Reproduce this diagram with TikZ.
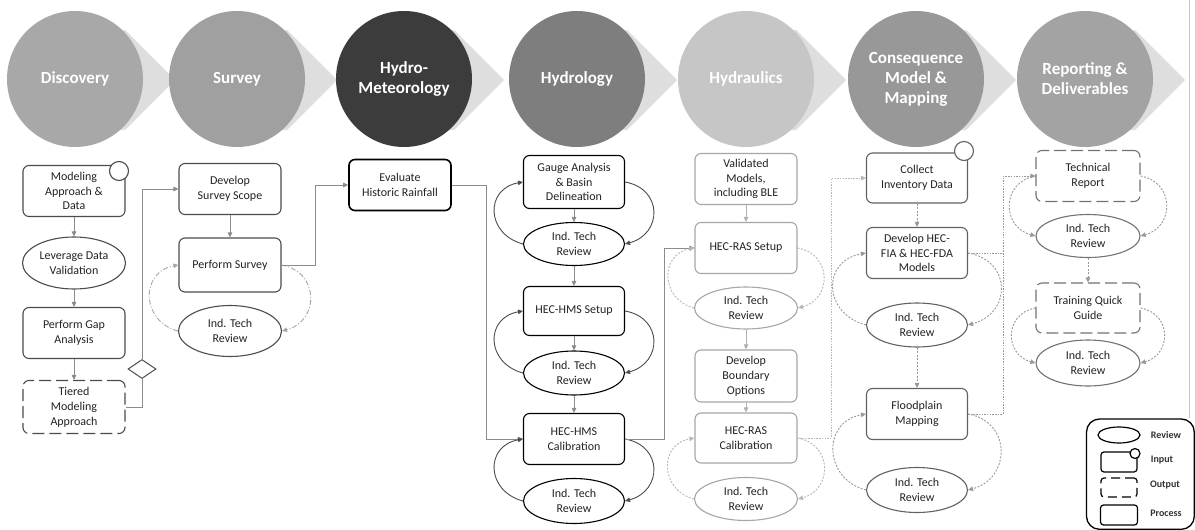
\documentclass[tikz,border=0pt]{standalone}
\usepackage{fontspec}
\setmainfont{Carlito}
\usetikzlibrary{shapes.geometric,arrows.meta}
\definecolor{cDisc}{RGB}{168,168,168}
\definecolor{cSurv}{RGB}{160,160,160}
\definecolor{cMet}{RGB}{60,60,60}
\definecolor{cHyd}{RGB}{126,126,126}
\definecolor{cHdr}{RGB}{198,198,198}
\definecolor{cCon}{RGB}{152,152,152}
\definecolor{cRep}{RGB}{163,163,163}
\definecolor{cChev}{RGB}{222,222,222}
\definecolor{txt}{RGB}{35,35,35}
\tikzset{
  tip/.style={-{Triangle[length=5pt,width=4.5pt]}},
  head/.style={circle, minimum size=136pt, inner sep=0pt, text=white, align=center,
    font=\bfseries\fontsize{17}{20}\selectfont},
  base/.style={align=center, font=\fontsize{12}{14.8}\selectfont, text=txt, inner sep=1pt, line width=1.1pt},
  proc/.style={base, rectangle, rounded corners=6pt, draw, minimum width=102pt, minimum height=51pt},
  rev/.style={base, ellipse, draw, minimum width=103pt, minimum height=44pt, inner sep=0pt},
  outp/.style={proc, dash pattern=on 12pt off 5pt},
  inp/.style={circle, draw, fill=white, minimum size=19pt, inner sep=0pt, line width=1.1pt},
  conn/.style={tip, draw=black!45, line width=0.9pt},
  connL/.style={tip, draw=black!30, line width=0.9pt},
  loopS/.style={tip, draw=black!35, line width=0.9pt, dash pattern=on 5pt off 2pt on 1pt off 2pt},
  loopH/.style={tip, draw=black!70, line width=0.9pt},
  loopD/.style={tip, draw=black!40, line width=0.9pt, dash pattern=on 2pt off 1.5pt},
  loopL/.style={tip, draw=black!28, line width=0.9pt, dash pattern=on 2pt off 1.5pt},
  lgtxt/.style={font=\bfseries\fontsize{10}{12}\selectfont, text=black!80},
}
\begin{document}
\begin{tikzpicture}[x=1pt,y=-1pt]
\useasboundingbox (0,0) rectangle (1195,530);
\fill[white] (0,0) rectangle (1195,530);
% chevrons
\foreach \cx in {75,237,404,577,746,916,1085}{
  \fill[cChev] (\cx,30) -- (\cx+50,30) -- (\cx+100,80) -- (\cx+50,130) -- (\cx,130) -- cycle;
}
% header circles
\node[head, fill=cDisc] (hDisc) at (75,79) {Discovery};
\node[head, fill=cSurv] (hSurv) at (237,79) {Survey};
\node[head, fill=cMet] (hMet) at (404,79) {Hydro-\\Meteorology};
\node[head, fill=cHyd] (hHyd) at (577,79) {Hydrology};
\node[head, fill=cHdr] (hHdr) at (746,79) {Hydraulics};
\node[head, fill=cCon] (hCon) at (916,79) {Consequence\\Model \&\\Mapping};
\node[head, fill=cRep] (hRep) at (1085,79) {Reporting \&\\Deliverables};

% right page edge line
\draw[black!22, line width=0.6pt] (1189,0) -- (1189,418);

% ---------------- Discovery
\begin{scope}[every node/.append style={draw=black!70}]
\node[proc] (d1) at (74,191) {Modeling\\Approach \&\\Data};
\node[rev, minimum height=52pt] (d2) at (74,263) {Leverage Data\\Validation};
\node[proc] (d3) at (74,333) {Perform Gap\\Analysis};
\node[outp, minimum height=53pt] (d4) at (74,407) {Tiered\\Modeling\\Approach};
\end{scope}
\node[inp, draw=black!70] (d1in) at (119,171) {};
\node[diamond, draw=black!70, line width=1pt, minimum width=28pt, minimum height=19pt, inner sep=0pt] (dia) at (142,369) {};
\draw[conn] (d1) -- (d2);
\draw[conn] (d2) -- (d3);
\draw[conn] (d3) -- (d4);

% ---------------- Survey
\begin{scope}[every node/.append style={draw=black!70}]
\node[proc] (s1) at (230,189) {Develop\\Survey Scope};
\node[proc, minimum height=54pt] (s2) at (230,265) {Perform Survey};
\node[rev, minimum height=51pt] (s3) at (230,331) {Ind. Tech\\Review};
\end{scope}
\draw[conn, -] (d4.east) -| (dia.south);
\draw[conn] (dia.north) |- (s1.west);
\draw[conn] (s1) -- (s2);
\draw[loopS] (s2.east) to[out=-10, in=15, looseness=1.5] (s3.east);
\draw[loopS] (s3.west) to[out=165, in=190, looseness=1.5] (s2.west);

% ---------------- Hydro-Meteorology
\node[proc, draw=black, line width=1.6pt] (h0) at (400,185) {Evaluate\\Historic Rainfall};
\draw[conn] (s2.east) -- ++(34,0) |- (h0.west);

% ---------------- Hydrology
\begin{scope}[every node/.append style={draw=black, line width=1.5pt}]
\node[proc, minimum width=101pt, minimum height=53pt] (hy1) at (574,182) {Gauge Analysis\\\& Basin\\Delineation};
\node[rev, minimum width=101pt, minimum height=43pt] (hy2) at (574,244) {Ind. Tech\\Review};
\node[proc, minimum width=101pt, minimum height=49pt] (hy3) at (574,311) {HEC-HMS Setup};
\node[rev, minimum width=101pt, minimum height=44pt] (hy4) at (574,373) {Ind. Tech\\Review};
\node[proc, minimum width=101pt, minimum height=51pt] (hy5) at (574,439) {HEC-HMS\\Calibration};
\node[rev, minimum width=101pt, minimum height=45pt] (hy6) at (574,501) {Ind. Tech\\Review};
\end{scope}
\draw[conn] (h0.east) -- ++(35,0) |- (hy5.west);
\draw[conn] (hy1) -- (hy2);
\draw[conn] (hy2) -- (hy3);
\draw[conn] (hy3) -- (hy4);
\draw[conn] (hy4) -- (hy5);
\draw[loopH] (hy1.east) to[out=-10, in=15, looseness=1.6] (hy2.east);
\draw[loopH] (hy2.west) to[out=165, in=190, looseness=1.6] (hy1.west);
\draw[loopH] (hy3.east) to[out=-10, in=15, looseness=1.6] (hy4.east);
\draw[loopH] (hy4.west) to[out=165, in=190, looseness=1.6] (hy3.west);
\draw[loopH] (hy5.east) to[out=-10, in=15, looseness=1.6] (hy6.east);
\draw[loopH] (hy6.west) to[out=165, in=190, looseness=1.6] (hy5.west);

% ---------------- Hydraulics
\begin{scope}[every node/.append style={draw=black!35}]
\node[proc] (hd1) at (746,179) {Validated\\Models,\\including BLE};
\node[proc] (hd2) at (746,248) {HEC-RAS Setup};
\node[rev, minimum height=42pt] (hd3) at (746,308) {Ind. Tech\\Review};
\node[proc, minimum height=52pt] (hd4) at (746,376) {Develop\\Boundary\\Options};
\node[proc, minimum height=50pt] (hd5) at (746,438) {HEC-RAS\\Calibration};
\node[rev, minimum height=43pt] (hd6) at (746,499) {Ind. Tech\\Review};
\end{scope}
\draw[conn] (hy5.east) -- ++(39,0) |- (hd2.west);
\draw[connL] (hd1) -- (hd2);
\draw[connL] (hd3) -- (hd4);
\draw[connL] (hd4) -- (hd5);
\draw[loopL] (hd2.east) to[out=-10, in=15, looseness=1.5] (hd3.east);
\draw[loopL] (hd3.west) to[out=165, in=190, looseness=1.5] (hd2.west);
\draw[loopL] (hd5.east) to[out=-10, in=15, looseness=1.5] (hd6.east);
\draw[loopL] (hd6.west) to[out=165, in=190, looseness=1.5] (hd5.west);

% ---------------- Consequence
\begin{scope}[every node/.append style={draw=black!62}]
\node[proc, minimum width=101pt, minimum height=50pt] (c1) at (917,178) {Collect\\Inventory Data};
\node[proc, minimum width=101pt] (c2) at (917,253) {Develop HEC-\\FIA \& HEC-FDA\\Models};
\node[rev, minimum width=101pt] (c3) at (917,325) {Ind. Tech\\Review};
\node[proc, minimum width=101pt] (c4) at (917,414) {Floodplain\\Mapping};
\node[rev, minimum width=101pt, minimum height=45pt] (c5) at (917,490) {Ind. Tech\\Review};
\end{scope}
\node[inp, draw=black!62] (c1in) at (964,151) {};
\draw[loopL, dash pattern=on 1.5pt off 1.2pt] (hd5.east) -- ++(34,0) |- (c1.west);
\draw[loopD] (c1) -- (c2);
\draw[loopD] (c3) -- (c4);
\draw[loopD] (c2.east) to[out=-10, in=15, looseness=1.6] (c3.east);
\draw[loopD] (c3.west) to[out=165, in=190, looseness=1.6] (c2.west);
\draw[loopD] (c4.east) to[out=-10, in=15, looseness=1.5] (c5.east);
\draw[loopD] (c5.west) to[out=165, in=190, looseness=1.5] (c4.west);

% ---------------- Reporting
\begin{scope}[every node/.append style={draw=black!55}]
\node[outp, minimum width=104pt] (r1) at (1088,176) {Technical\\Report};
\node[rev, minimum width=104pt, minimum height=43pt] (r2) at (1088,236) {Ind. Tech\\Review};
\node[outp, minimum width=104pt, minimum height=50pt] (r3) at (1088,308) {Training Quick\\Guide};
\node[rev, minimum width=104pt, minimum height=46pt] (r4) at (1088,363) {Ind. Tech\\Review};
\end{scope}
\draw[loopD, dash pattern=on 1.5pt off 1.2pt] (c4.east) -- ++(35,0) |- (r1.west);
\draw[draw=black!40, line width=0.9pt, dash pattern=on 1.5pt off 1.2pt] (c2.east) -- ++(35,0);
\draw[loopD] (r2) -- (r3);
\draw[loopD] (r1.east) to[out=-10, in=15, looseness=1.5] (r2.east);
\draw[loopD] (r1.west) to[out=190, in=165, looseness=1.5] (r2.west);
\draw[loopD] (r3.east) to[out=-10, in=15, looseness=1.5] (r4.east);
\draw[loopD] (r3.west) to[out=190, in=165, looseness=1.5] (r4.west);

% ---------------- Legend
\draw[black, line width=1.3pt, rounded corners=13pt] (1086.5,419) rectangle (1194.3,529.3);
\node[ellipse, draw, line width=1.2pt, minimum width=42pt, minimum height=16pt, inner sep=0pt] (lgR) at (1119,435) {};
\node[rectangle, rounded corners=3pt, draw, line width=1.2pt, minimum width=36pt, minimum height=20pt, inner sep=0pt] (lgI) at (1119,462) {};
\node[circle, draw, fill=white, line width=1.2pt, minimum size=10pt, inner sep=0pt] (lgIc) at (1135,453.5) {};
\node[rectangle, rounded corners=3pt, draw, line width=1.2pt, dash pattern=on 9pt off 5pt, minimum width=36pt, minimum height=19pt, inner sep=0pt] (lgO) at (1119,487.5) {};
\node[rectangle, rounded corners=3pt, draw, line width=1.2pt, minimum width=37pt, minimum height=20pt, inner sep=0pt] (lgP) at (1119,515) {};
\node[lgtxt] (lgRt) at (1166,435) {Review};
\node[lgtxt] (lgIt) at (1162,460) {Input};
\node[lgtxt] (lgOt) at (1165,485) {Output};
\node[lgtxt] (lgPt) at (1166,513) {Process};
\end{tikzpicture}
\end{document}
